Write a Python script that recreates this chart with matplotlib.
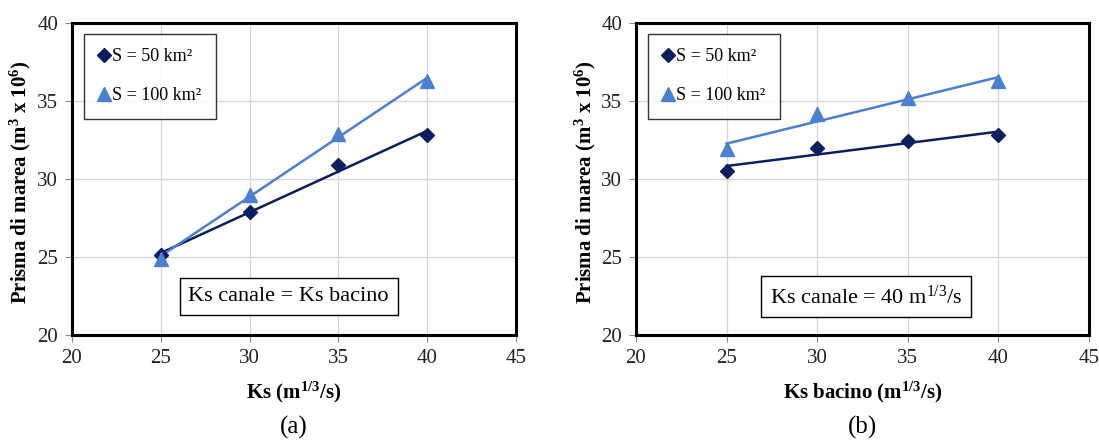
import numpy as np
import matplotlib
matplotlib.use("Agg")
import matplotlib.pyplot as plt

plt.rcParams["font.family"] = ["Liberation Serif", "DejaVu Serif"]
plt.rcParams["mathtext.default"] = "regular"

ks = [25, 30, 35, 40]

# (a) Ks canale = Ks bacino
prisma_a_50 = [25.1, 27.9, 30.9, 32.8]
prisma_a_100 = [24.9, 29.0, 32.9, 36.3]

# (b) Ks canale = 40 m^1/3/s
prisma_b_50 = [30.5, 32.0, 32.45, 32.8]
prisma_b_100 = [31.9, 34.2, 35.2, 36.3]

labels = ["S = 50 km²", "S = 100 km²"]
xlabels = ["Ks (m$^{1/3}$/s)", "Ks bacino (m$^{1/3}$/s)"]
notes = ["Ks canale = Ks bacino", "Ks canale = 40 m$^{1/3}$/s"]
panel_tags = ["(a)", "(b)"]
ylabel = "Prisma di marea (m$^3$ x 10$^6$)"

DARK = "#0b1f5e"
LIGHT = "#4b7fd0"

fig = plt.figure(figsize=(10.99, 4.40), dpi=100)
axes = [fig.add_axes([0.0655, 0.2386, 0.404, 0.709]),
        fig.add_axes([0.5787, 0.2386, 0.412, 0.709])]

panels = [(prisma_a_50, prisma_a_100), (prisma_b_50, prisma_b_100)]
ylabel_x = [-0.088, -0.083]
note_x = [32.2, 32.7]

for i, (ax, (y50, y100)) in enumerate(zip(axes, panels)):
    x = np.array(ks, dtype=float)
    handles = []
    for y, color, marker, ms, lab in [(y50, DARK, "D", 7, labels[0]),
                                      (y100, LIGHT, "^", 10, labels[1])]:
        # linear trendline through the series
        coef = np.polyfit(x, y, 1)
        ax.plot(x, np.polyval(coef, x), color=color, lw=1.8, zorder=3)
        h, = ax.plot(x, y, linestyle="none", marker=marker, ms=ms,
                     color=color, zorder=4, label=lab)
        handles.append(h)

    ax.set_xlim(20, 45)
    ax.set_ylim(20, 40)
    ax.set_xticks([20, 25, 30, 35, 40, 45])
    ax.set_yticks([20, 25, 30, 35, 40])
    ax.grid(True, color="#d4d4d4", lw=0.9)
    ax.set_axisbelow(True)
    for sp in ax.spines.values():
        sp.set_linewidth(2.2)
        sp.set_color("black")
    ax.tick_params(axis="both", labelsize=15, length=5, width=0.8,
                   color="#888888", labelcolor="#222222", pad=5)

    ax.set_ylabel(ylabel, fontsize=15, fontweight="bold")
    ax.yaxis.set_label_coords(ylabel_x[i], 0.49)
    ax.set_xlabel(xlabels[i], fontsize=15, fontweight="bold")
    ax.xaxis.set_label_coords(0.5, -0.183)
    ax.xaxis.label.set_va("center")

    leg = ax.legend(handles=handles, loc="upper left",
                    bbox_to_anchor=(0.027, 0.965), fontsize=13,
                    frameon=True, fancybox=False, edgecolor="black",
                    handlelength=0.6, handletextpad=0.15, labelspacing=1.2,
                    borderpad=0.8, borderaxespad=0.0)
    leg.get_frame().set_linewidth(1.0)

    ax.text(note_x[i], 22.45, notes[i], fontsize=16,
            ha="center", va="center", zorder=5,
            bbox=dict(boxstyle="square,pad=0.4", fc="white",
                      ec="black", lw=1.0))

    ax.text(0.5, -0.295, panel_tags[i], transform=ax.transAxes,
            fontsize=18, ha="center", va="center")

fig.savefig("out.png", dpi=100)
